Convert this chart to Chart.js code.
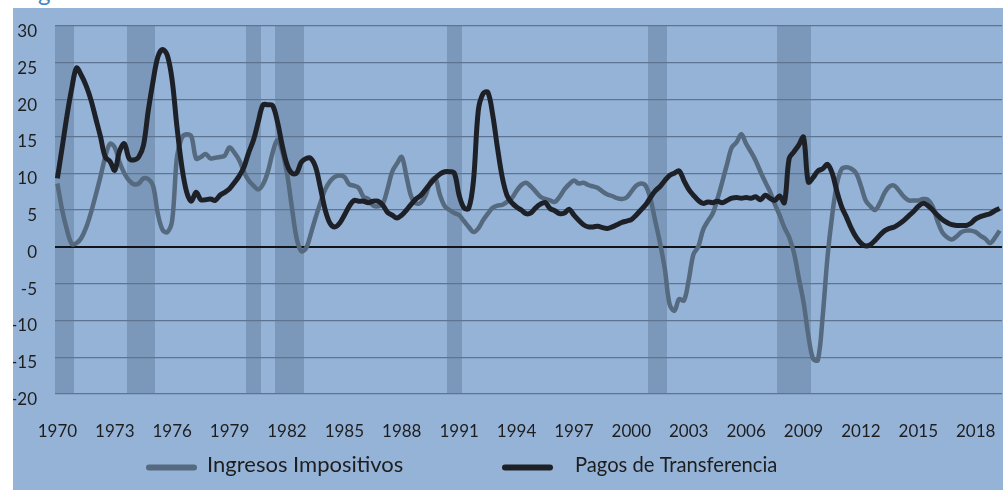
<!DOCTYPE html>
<html>
<head>
<meta charset="utf-8">
<script src="https://cdn.jsdelivr.net/npm/chart.js@4.4.1/dist/chart.umd.min.js"></script>
<style>
  html, body { margin: 0; padding: 0; background: #ffffff; width: 1003px; height: 490px; overflow: hidden; position: relative; }
  #title { position: absolute; left: 38px; top: -20px; font: 24px/24px Lato, sans-serif; color: #3d85c6; z-index: 0; }
  #wrap { position: absolute; left: 13px; top: 8px; width: 990px; height: 482px; background: #95b3d7; z-index: 1; }
  canvas { display: block; }
</style>
</head>
<body>
<div id="title">g</div>
<div id="wrap"><canvas id="c" width="990" height="482"></canvas></div>
<script>
// ---- Data -------------------------------------------------------------
const startYear = 1970;
const quarterCount = 198; // 1970-T1 .. 2019-T2
const categories = [];
for (let i = 0; i < quarterCount; i++) {
  categories.push((startYear + Math.floor(i / 4)) + '-T' + (i % 4 + 1));
}

const seriesNames = ['Ingresos Impositivos', 'Pagos de Transferencia'];

// Ingresos Impositivos (quarterly, % yoy)
const ingresosImpositivos = [
  8.6, 5.0, 2.3, 0.4, 0.5, 1.2, 2.6, 4.6, 7.0, 9.5, 12.2, 14.0,
  13.5, 11.5, 10.0, 9.0, 8.5, 8.6, 9.3, 9.2, 8.3, 4.5, 2.3, 2.0,
  3.6, 12.2, 14.8, 15.3, 15.0, 12.0, 12.2, 12.6, 12.0, 12.1, 12.2, 12.4,
  13.5, 12.8, 11.8, 10.2, 9.0, 8.3, 7.8, 8.5, 10.2, 12.8, 14.5, 13.0,
  10.0, 5.5, 1.2, -0.6, -0.2, 1.8, 4.0, 6.0, 7.8, 8.9, 9.5, 9.7,
  9.5, 8.5, 8.3, 8.0, 6.8, 6.5, 5.6, 5.5, 5.8, 7.8, 10.2, 11.3,
  12.2, 9.5, 6.8, 5.9, 6.0, 7.0, 8.8, 9.3, 7.0, 5.5, 5.0, 4.6,
  4.3, 3.5, 2.7, 2.0, 2.5, 3.6, 4.5, 5.3, 5.6, 5.7, 6.1, 6.6,
  7.6, 8.4, 8.7, 8.2, 7.5, 6.8, 6.5, 6.3, 6.1, 6.8, 7.8, 8.5,
  9.0, 8.6, 8.7, 8.4, 8.2, 8.0, 7.5, 7.1, 6.9, 6.6, 6.5, 6.7,
  7.5, 8.3, 8.6, 8.3, 6.5, 3.5, 0.5, -3.0, -7.8, -8.7, -7.1, -7.3,
  -4.5, -1.0, 0.0, 2.3, 3.5, 4.5, 6.5, 8.8, 11.2, 13.5, 14.2, 15.3,
  14.0, 12.9, 11.7, 10.2, 8.8, 7.5, 5.8, 4.3, 2.6, 1.3, -0.8, -4.2,
  -7.5, -12.0, -15.2, -15.4, -9.5, -1.5, 4.3, 8.6, 10.6, 10.8, 10.6, 10.0,
  8.3, 6.3, 5.5, 5.0, 6.0, 7.4, 8.2, 8.3, 7.6, 6.8, 6.3, 6.3,
  6.3, 6.5, 6.4, 5.5, 3.5, 2.0, 1.3, 1.0, 1.4, 2.0, 2.2, 2.2,
  2.0, 1.5, 1.1, 0.5, 1.2, 2.2
];

// Pagos de Transferencia (quarterly, % yoy)
const pagosTransferencia = [
  9.3, 13.5, 17.8, 21.5, 24.3, 23.3, 21.9, 20.0, 17.5, 15.0, 12.2, 11.6,
  10.4, 13.0, 14.0, 12.0, 11.8, 12.2, 13.8, 18.5, 22.5, 25.8, 26.8, 26.0,
  22.6, 16.3, 11.0, 7.5, 6.2, 7.4, 6.4, 6.4, 6.5, 6.3, 7.0, 7.4,
  7.9, 8.7, 9.6, 10.8, 12.8, 14.5, 17.0, 19.3, 19.3, 19.2, 17.0, 13.8,
  11.2, 10.0, 10.0, 11.5, 12.0, 12.0, 10.8, 8.0, 5.0, 3.2, 2.7, 3.2,
  4.3, 5.5, 6.3, 6.2, 6.2, 6.0, 6.2, 6.2, 5.7, 4.7, 4.3, 3.9,
  4.3, 5.0, 5.8, 6.5, 7.0, 7.8, 8.6, 9.3, 9.9, 10.2, 10.2, 10.0,
  7.0, 5.3, 5.2, 9.0, 18.5, 20.8, 21.0, 18.0, 13.5, 9.5, 7.0, 6.0,
  5.4, 5.0, 4.5, 4.6, 5.3, 5.8, 6.0, 5.2, 4.9, 4.5, 4.6, 5.1,
  4.3, 3.6, 3.0, 2.7, 2.7, 2.8, 2.6, 2.5, 2.7, 3.0, 3.3, 3.5,
  3.7, 4.3, 5.0, 5.7, 6.7, 7.6, 8.2, 9.0, 9.7, 10.0, 10.3, 9.0,
  7.8, 7.0, 6.3, 5.9, 6.1, 6.0, 6.2, 6.0, 6.3, 6.6, 6.7, 6.6,
  6.7, 6.6, 6.8, 6.4, 7.0, 6.6, 6.3, 6.9, 6.0, 12.0, 12.9, 13.8,
  14.9, 8.8, 9.4, 10.3, 10.6, 11.2, 10.0, 7.5, 5.4, 4.0, 2.5, 1.3,
  0.5, 0.1, 0.3, 0.9, 1.6, 2.2, 2.5, 2.7, 3.1, 3.6, 4.2, 4.8,
  5.5, 5.9, 5.6, 5.0, 4.3, 3.7, 3.3, 3.0, 2.9, 2.9, 2.9, 3.2,
  3.8, 4.1, 4.3, 4.5, 4.9, 5.2
];

// Recession periods (shaded bands), first and last quarter
const recessions = [
  ['1970-T1', '1970-T4'],
  ['1973-T4', '1975-T1'],
  ['1980-T1', '1980-T3'],
  ['1981-T3', '1982-T4'],
  ['1990-T3', '1991-T1'],
  ['2001-T1', '2001-T4'],
  ['2007-T4', '2009-T2']
];

// Y axis range and tick step
const yMin = -20, yMax = 30, yStep = 5;
// Every 12th quarter (3 years) gets a year label
const labelEvery = 12;

// ---- Build ------------------------------------------------------------
const COL_TAX = '#55697f';
const COL_TRANSFER = '#1d2127';
const COL_BAND = '#7b98ba';
const FONT = 'Lato, "Open Sans", sans-serif';

// Recession bands, placed with the category scale, drawn under the grid
const recessionBands = {
  id: 'recessionBands',
  beforeDraw(chart) {
    const x = chart.scales.x, area = chart.chartArea, ctx = chart.ctx;
    const half = (x.getPixelForValue(1) - x.getPixelForValue(0)) / 2;
    ctx.save();
    ctx.fillStyle = COL_BAND;
    recessions.forEach(([a, b]) => {
      const i0 = categories.indexOf(a), i1 = categories.indexOf(b);
      const x0 = Math.round(x.getPixelForValue(i0) - half);
      const x1 = Math.round(x.getPixelForValue(i1) + half);
      ctx.fillRect(x0, area.top, x1 - x0, area.bottom - area.top);
    });
    ctx.restore();
  }
};

const manualLegend = {
  id: 'manualLegend',
  afterDraw(chart) {
    const ctx = chart.ctx;
    const items = [
      { text: seriesNames[0], color: COL_TAX, x0: 133, x1: 184, tx: 194, w: 196 },
      { text: seriesNames[1], color: COL_TRANSFER, x0: 489, x1: 540, tx: 562, w: 202 }
    ];
    const yLine = 459.5, yText = 464;
    ctx.save();
    items.forEach(it => {
      ctx.strokeStyle = it.color;
      ctx.lineWidth = 6;
      ctx.lineCap = 'round';
      ctx.beginPath();
      ctx.moveTo(it.x0 + 3, yLine);
      ctx.lineTo(it.x1 - 3, yLine);
      ctx.stroke();
      ctx.font = '21px ' + FONT;
      const size = Math.max(19, Math.min(23, 21 * it.w / ctx.measureText(it.text).width));
      ctx.font = size.toFixed(1) + 'px ' + FONT;
      ctx.fillStyle = '#1e1e1e';
      ctx.textBaseline = 'alphabetic';
      ctx.textAlign = 'left';
      ctx.fillText(it.text, it.tx, yText);
    });
    ctx.restore();
  }
};

new Chart(document.getElementById('c'), {
  data: {
    labels: categories,
    datasets: [
      {
        type: 'line', label: seriesNames[0], data: ingresosImpositivos,
        borderColor: COL_TAX, borderWidth: 4.5, pointRadius: 0, tension: 0.35,
        fill: false, order: 2
      },
      {
        type: 'line', label: seriesNames[1], data: pagosTransferencia,
        borderColor: COL_TRANSFER, borderWidth: 5, pointRadius: 0, tension: 0.35,
        fill: false, order: 1
      }
    ]
  },
  options: {
    responsive: false,
    animation: false,
    devicePixelRatio: 1,
    layout: { padding: { left: 0, right: 1, top: 18, bottom: 0 } },
    plugins: { legend: { display: false }, tooltip: { enabled: false } },
    scales: {
      x: {
        type: 'category',
        offset: true,
        grid: { display: false },
        border: { display: false },
        ticks: {
          autoSkip: false, maxRotation: 0, minRotation: 0, padding: 19,
          color: '#1e1e1e', font: { family: FONT, size: 17 },
          callback(v) { return this.getLabelForValue(v).slice(0, 4); }
        },
        afterBuildTicks(s) { s.ticks = s.ticks.filter(t => t.value % labelEvery === 0); },
        afterFit(s) { s.height = 96; s.paddingLeft = 0; s.paddingRight = 0; }
      },
      y: {
        min: yMin, max: yMax,
        border: { display: false },
        grid: {
          drawTicks: false,
          color: c => (c.tick && c.tick.value === 0) ? '#111418' : '#5e7490',
          lineWidth: c => (c.tick && c.tick.value === 0) ? 2 : 1.3
        },
        ticks: {
          stepSize: yStep, padding: 18, labelOffset: 5.5,
          color: '#1e1e1e', font: { family: FONT, size: 17 }
        },
        afterFit(s) { s.width = 42; s.paddingTop = 0; s.paddingBottom = 0; }
      }
    }
  },
  plugins: [recessionBands, manualLegend]
});
</script>
</body>
</html>
